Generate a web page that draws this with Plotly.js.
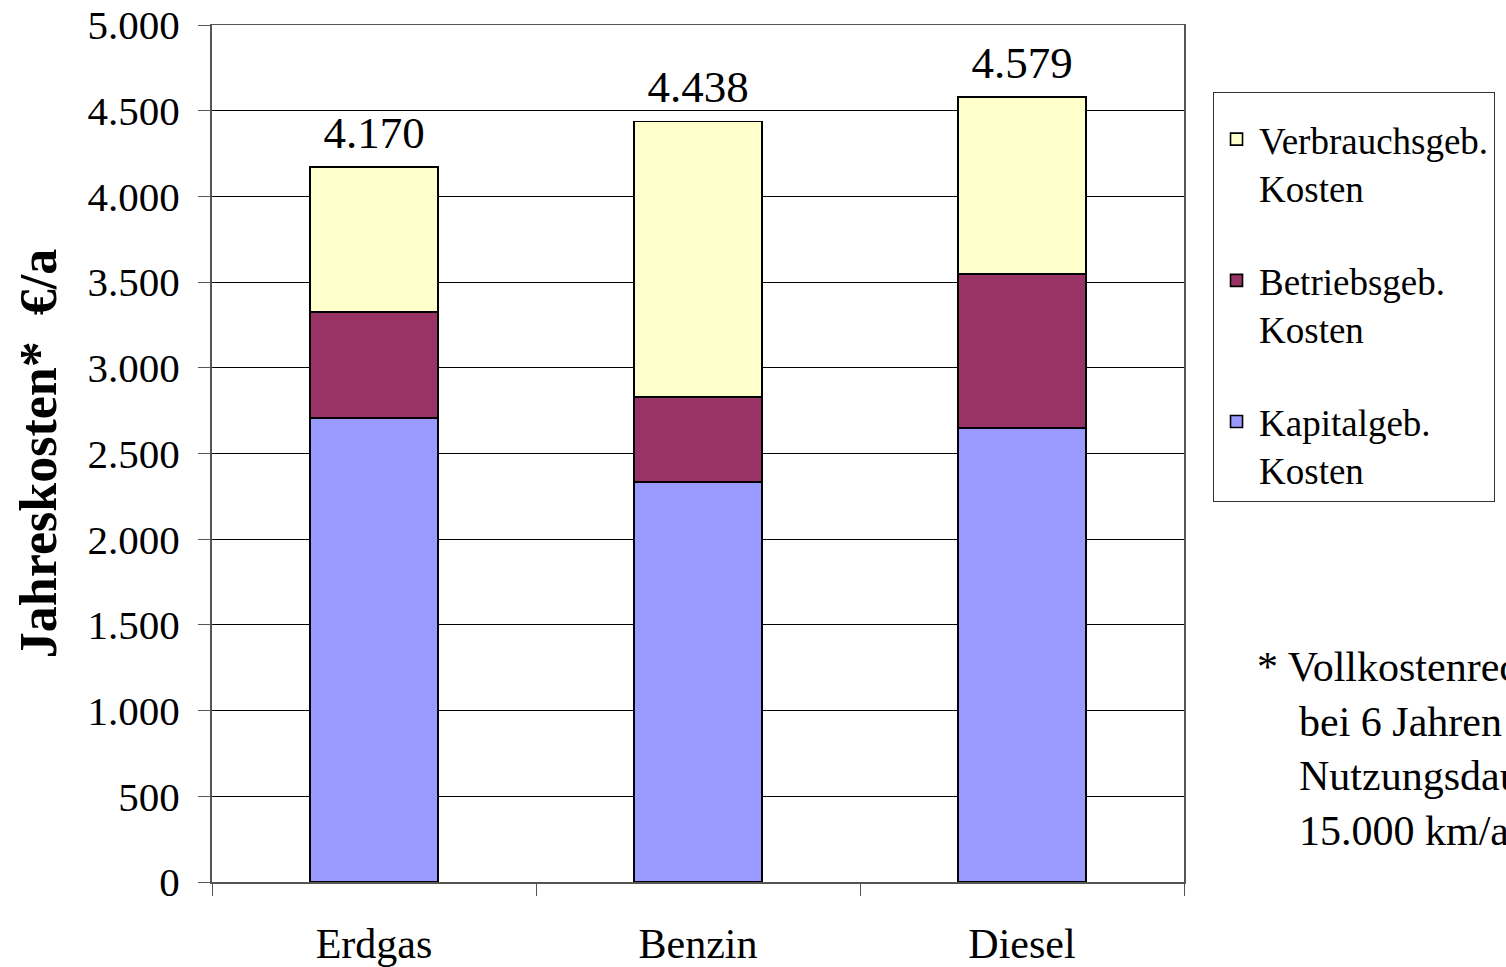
<!DOCTYPE html>
<html>
<head>
<meta charset="utf-8">
<script src="https://cdn.plot.ly/plotly-3.0.1.min.js"></script>
<style>html,body{margin:0;padding:0;background:#fff;}#chart{width:1506px;height:967px;}</style>
</head>
<body>
<div id="chart"></div>
<script>
const categories = ["Erdgas", "Benzin", "Diesel"];
const kapitalKosten = [2707, 2334, 2649];
const betriebsKosten = [619, 496, 898];
const verbrauchsKosten = [844, 1608, 1032];
const seriesNames = ["Kapitalgeb.<br>Kosten", "Betriebsgeb.<br>Kosten", "Verbrauchsgeb.<br>Kosten"];
const yTickValues = [0, 500, 1000, 1500, 2000, 2500, 3000, 3500, 4000, 4500, 5000];
const yTitle = "Jahreskosten*\u00a0 €/a";
const footnote = "* Vollkostenrechnung<br>\u00a0\u00a0\u00a0\u00a0bei 6 Jahren<br>\u00a0\u00a0\u00a0\u00a0Nutzungsdauer und<br>\u00a0\u00a0\u00a0\u00a015.000 km/a";

const totals = categories.map((c, i) => kapitalKosten[i] + betriebsKosten[i] + verbrauchsKosten[i]);

const FONT = "Liberation Serif, Times New Roman, serif";
const barLine = {color: "#000", width: 1.6};
const common = {type: "bar", x: categories, hoverinfo: "y"};

const traces = [
  Object.assign({}, common, {name: seriesNames[0], y: kapitalKosten, legendgroup: "a", legendrank: 3, marker: {color: "#9999FF", line: barLine}}),
  Object.assign({}, common, {name: seriesNames[1], y: betriebsKosten, legendgroup: "b", legendrank: 2, marker: {color: "#993366", line: barLine}}),
  Object.assign({}, common, {name: seriesNames[2], y: verbrauchsKosten, legendgroup: "c", legendrank: 1, marker: {color: "#FFFFCC", line: barLine}}),
  {type: "scatter", mode: "markers+text", x: categories, y: totals,
   texttemplate: "%{y:,}", textposition: "top center", showlegend: false, hoverinfo: "skip",
   marker: {size: 11, opacity: 0},
   textfont: {family: FONT, size: 45, color: "#000"}}
];

const layout = {
  width: 1506, height: 967,
  margin: {l: 212, r: 321, t: 25, b: 85},
  paper_bgcolor: "#fff", plot_bgcolor: "#fff",
  separators: ",.",
  barmode: "stack",
  bargap: 0.605,
  showlegend: true,
  font: {family: FONT, color: "#000"},
  xaxis: {
    type: "category",
    tickson: "boundaries",
    ticks: "outside", ticklen: 12, tickcolor: "#555", tickwidth: 1,
    showline: true, linecolor: "#555", linewidth: 1.5, mirror: true,
    showgrid: false,
    tickfont: {family: FONT, size: 42, color: "#000"},
    ticklabelstandoff: 24
  },
  yaxis: {
    range: [0, 5000],
    tickvals: yTickValues,
    tickformat: ",",
    ticks: "outside", ticklen: 12, tickcolor: "#555", tickwidth: 1,
    showline: true, linecolor: "#555", linewidth: 2, mirror: true,
    showgrid: true, gridcolor: "#000", gridwidth: 1,
    zeroline: false,
    tickfont: {family: FONT, size: 41, color: "#000"},
    ticklabelstandoff: 10,
    title: {text: yTitle, font: {family: FONT, size: 52, color: "#000", weight: "bold"}, standoff: 14}
  },
  legend: {
    x: 1.0288, xanchor: "left",
    y: 0.9218, yanchor: "top",
    bgcolor: "#fff", bordercolor: "#333", borderwidth: 1,
    font: {family: FONT, size: 37, color: "#000"},
    traceorder: "grouped",
    tracegroupgap: 42,
    valign: "top",
    itemwidth: 35,
    title: {text: " ", font: {size: 12}}
  },
  annotations: [{
    xref: "paper", yref: "paper", x: 1.073, y: 0.28, xanchor: "left", yanchor: "top",
    text: footnote, showarrow: false, align: "left",
    font: {family: FONT, size: 42, color: "#000"}
  }]
};

Plotly.newPlot("chart", traces, layout, {displayModeBar: false, staticPlot: true});
</script>
</body>
</html>
